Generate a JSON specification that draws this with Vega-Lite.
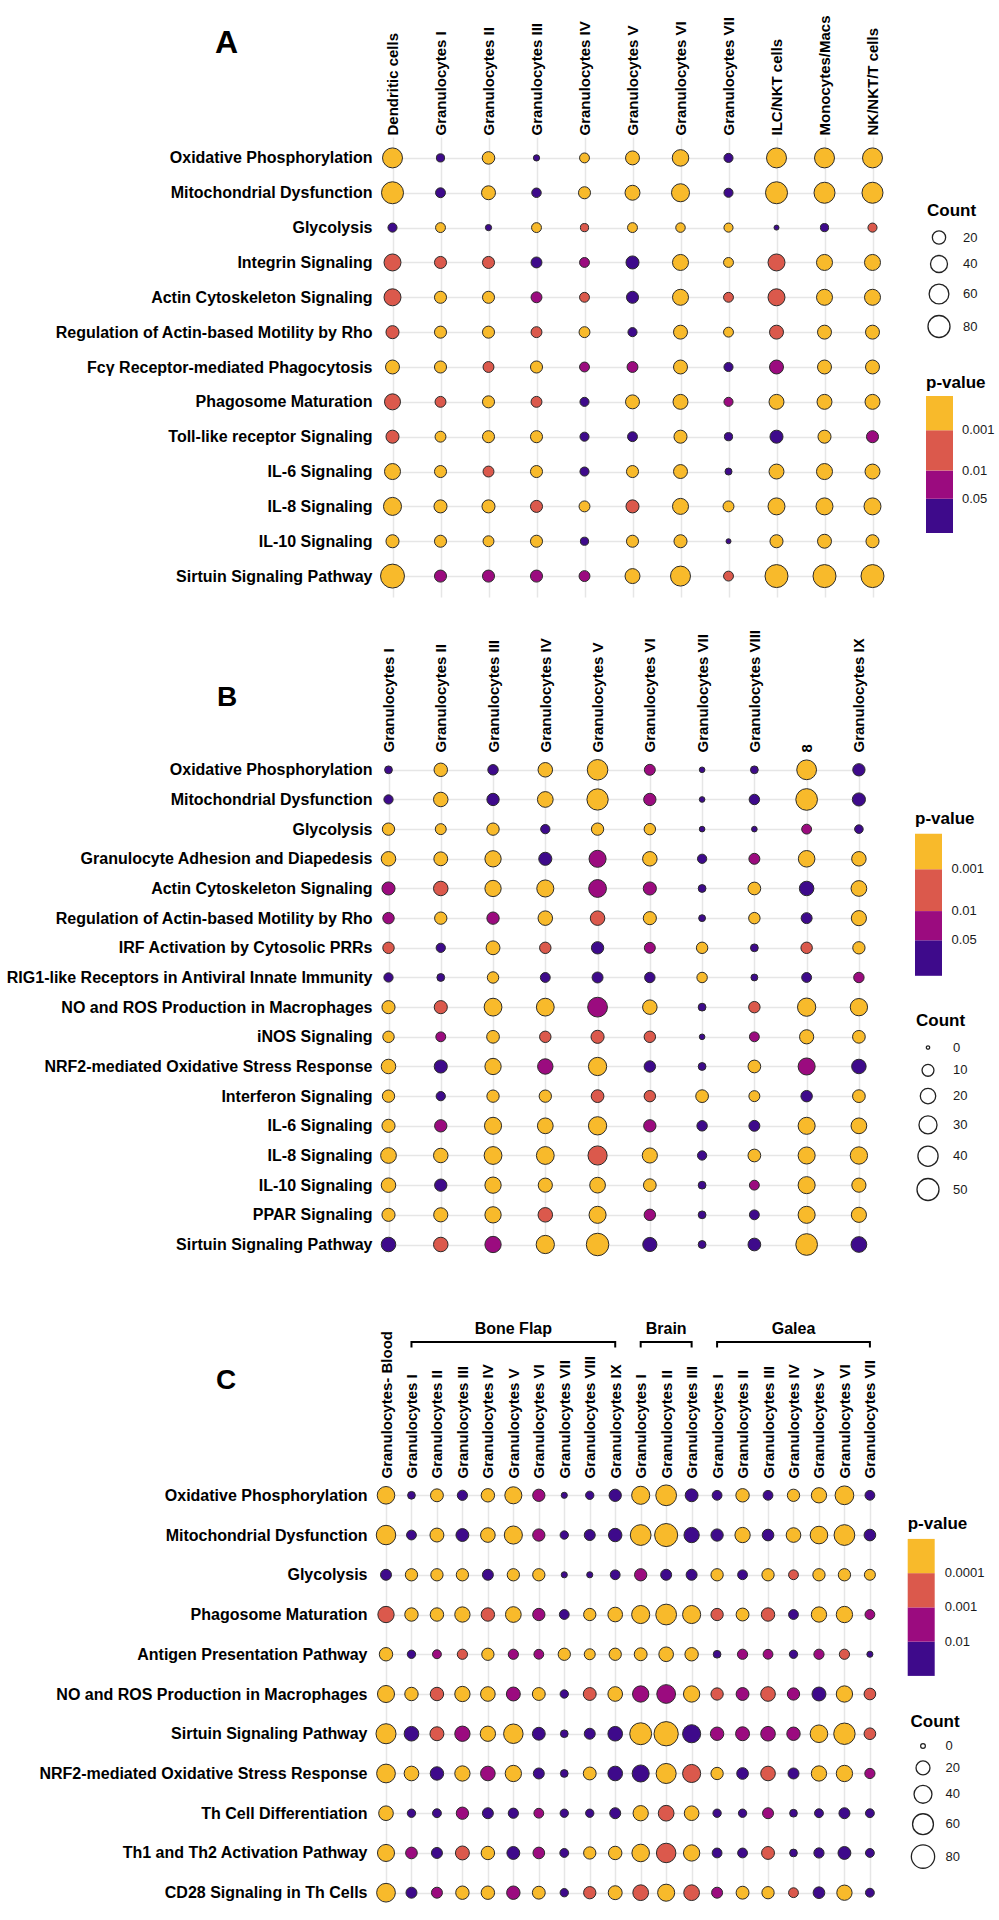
{
"$schema":"https://vega.github.io/schema/vega-lite/v6.json",
"background":"white",
"padding":{"left":5,"top":14,"right":5,"bottom":5},
"spacing":32,
"config":{
 "view":{"stroke":null},
 "font":"Liberation Sans",
 "axis":{"labelFont":"Liberation Sans","labelFontWeight":"bold","labelColor":"#000000","ticks":false,"domain":false,"grid":true,"gridColor":"#e6e6e6","gridWidth":1.5,"labelOverlap":false,"labelLimit":500},
 "axisX":{"labelFontSize":15,"labelAngle":270,"labelAlign":"left","labelBaseline":"middle","labelPadding":2},
 "axisY":{"labelFontSize":16,"labelPadding":3},
 "legend":{"titleFont":"Liberation Sans","titleFontSize":17,"titleFontWeight":"bold","titleColor":"#000000","labelFont":"Liberation Sans","labelFontSize":13,"labelColor":"#1a1a1a","padding":0,"gradientStrokeWidth":0,"symbolFillColor":"white","symbolStrokeColor":"#222222","symbolStrokeWidth":1.3,"symbolOpacity":1}
},
"resolve":{"scale":{"x":"independent","y":"independent","color":"independent","size":"independent"},"legend":{"color":"independent","size":"independent"}},
"datasets":{
"A":[
{"path":"Oxidative Phosphorylation","cell":"Dendritic cells","n":62,"lp":3.5},
{"path":"Oxidative Phosphorylation","cell":"Granulocytes I","n":4,"lp":1},
{"path":"Oxidative Phosphorylation","cell":"Granulocytes II","n":17,"lp":3.5},
{"path":"Oxidative Phosphorylation","cell":"Granulocytes III","n":1,"lp":1},
{"path":"Oxidative Phosphorylation","cell":"Granulocytes IV","n":8,"lp":3.5},
{"path":"Oxidative Phosphorylation","cell":"Granulocytes V","n":23,"lp":3.5},
{"path":"Oxidative Phosphorylation","cell":"Granulocytes VI","n":37,"lp":3.5},
{"path":"Oxidative Phosphorylation","cell":"Granulocytes VII","n":6,"lp":1},
{"path":"Oxidative Phosphorylation","cell":"ILC/NKT cells","n":62,"lp":3.5},
{"path":"Oxidative Phosphorylation","cell":"Monocytes/Macs","n":62,"lp":3.5},
{"path":"Oxidative Phosphorylation","cell":"NK/NKT/T cells","n":62,"lp":3.5},
{"path":"Mitochondrial Dysfunction","cell":"Dendritic cells","n":80,"lp":3.5},
{"path":"Mitochondrial Dysfunction","cell":"Granulocytes I","n":8,"lp":1},
{"path":"Mitochondrial Dysfunction","cell":"Granulocytes II","n":23,"lp":3.5},
{"path":"Mitochondrial Dysfunction","cell":"Granulocytes III","n":7,"lp":1},
{"path":"Mitochondrial Dysfunction","cell":"Granulocytes IV","n":15,"lp":3.5},
{"path":"Mitochondrial Dysfunction","cell":"Granulocytes V","n":28,"lp":3.5},
{"path":"Mitochondrial Dysfunction","cell":"Granulocytes VI","n":47,"lp":3.5},
{"path":"Mitochondrial Dysfunction","cell":"Granulocytes VII","n":6,"lp":1},
{"path":"Mitochondrial Dysfunction","cell":"ILC/NKT cells","n":80,"lp":3.5},
{"path":"Mitochondrial Dysfunction","cell":"Monocytes/Macs","n":71,"lp":3.5},
{"path":"Mitochondrial Dysfunction","cell":"NK/NKT/T cells","n":71,"lp":3.5},
{"path":"Glycolysis","cell":"Dendritic cells","n":6,"lp":1},
{"path":"Glycolysis","cell":"Granulocytes I","n":8,"lp":3.5},
{"path":"Glycolysis","cell":"Granulocytes II","n":1,"lp":1},
{"path":"Glycolysis","cell":"Granulocytes III","n":8,"lp":3.5},
{"path":"Glycolysis","cell":"Granulocytes IV","n":4,"lp":2.5},
{"path":"Glycolysis","cell":"Granulocytes V","n":8,"lp":3.5},
{"path":"Glycolysis","cell":"Granulocytes VI","n":7,"lp":3.5},
{"path":"Glycolysis","cell":"Granulocytes VII","n":6,"lp":3.5},
{"path":"Glycolysis","cell":"ILC/NKT cells","n":0,"lp":1},
{"path":"Glycolysis","cell":"Monocytes/Macs","n":4,"lp":1},
{"path":"Glycolysis","cell":"NK/NKT/T cells","n":6,"lp":2.5},
{"path":"Integrin Signaling","cell":"Dendritic cells","n":40,"lp":2.5},
{"path":"Integrin Signaling","cell":"Granulocytes I","n":15,"lp":2.5},
{"path":"Integrin Signaling","cell":"Granulocytes II","n":15,"lp":2.5},
{"path":"Integrin Signaling","cell":"Granulocytes III","n":11,"lp":1},
{"path":"Integrin Signaling","cell":"Granulocytes IV","n":8,"lp":1.6},
{"path":"Integrin Signaling","cell":"Granulocytes V","n":19,"lp":1},
{"path":"Integrin Signaling","cell":"Granulocytes VI","n":34,"lp":3.5},
{"path":"Integrin Signaling","cell":"Granulocytes VII","n":8,"lp":3.5},
{"path":"Integrin Signaling","cell":"ILC/NKT cells","n":40,"lp":2.5},
{"path":"Integrin Signaling","cell":"Monocytes/Macs","n":34,"lp":3.5},
{"path":"Integrin Signaling","cell":"NK/NKT/T cells","n":34,"lp":3.5},
{"path":"Actin Cytoskeleton Signaling","cell":"Dendritic cells","n":40,"lp":2.5},
{"path":"Actin Cytoskeleton Signaling","cell":"Granulocytes I","n":15,"lp":3.5},
{"path":"Actin Cytoskeleton Signaling","cell":"Granulocytes II","n":15,"lp":3.5},
{"path":"Actin Cytoskeleton Signaling","cell":"Granulocytes III","n":11,"lp":1.6},
{"path":"Actin Cytoskeleton Signaling","cell":"Granulocytes IV","n":8,"lp":2.5},
{"path":"Actin Cytoskeleton Signaling","cell":"Granulocytes V","n":15,"lp":1},
{"path":"Actin Cytoskeleton Signaling","cell":"Granulocytes VI","n":34,"lp":3.5},
{"path":"Actin Cytoskeleton Signaling","cell":"Granulocytes VII","n":8,"lp":2.5},
{"path":"Actin Cytoskeleton Signaling","cell":"ILC/NKT cells","n":40,"lp":2.5},
{"path":"Actin Cytoskeleton Signaling","cell":"Monocytes/Macs","n":34,"lp":3.5},
{"path":"Actin Cytoskeleton Signaling","cell":"NK/NKT/T cells","n":34,"lp":3.5},
{"path":"Regulation of Actin-based Motility by Rho","cell":"Dendritic cells","n":19,"lp":2.5},
{"path":"Regulation of Actin-based Motility by Rho","cell":"Granulocytes I","n":15,"lp":3.5},
{"path":"Regulation of Actin-based Motility by Rho","cell":"Granulocytes II","n":15,"lp":3.5},
{"path":"Regulation of Actin-based Motility by Rho","cell":"Granulocytes III","n":11,"lp":2.5},
{"path":"Regulation of Actin-based Motility by Rho","cell":"Granulocytes IV","n":11,"lp":3.5},
{"path":"Regulation of Actin-based Motility by Rho","cell":"Granulocytes V","n":6,"lp":1},
{"path":"Regulation of Actin-based Motility by Rho","cell":"Granulocytes VI","n":23,"lp":3.5},
{"path":"Regulation of Actin-based Motility by Rho","cell":"Granulocytes VII","n":8,"lp":3.5},
{"path":"Regulation of Actin-based Motility by Rho","cell":"ILC/NKT cells","n":23,"lp":2.5},
{"path":"Regulation of Actin-based Motility by Rho","cell":"Monocytes/Macs","n":23,"lp":3.5},
{"path":"Regulation of Actin-based Motility by Rho","cell":"NK/NKT/T cells","n":23,"lp":3.5},
{"path":"Fcγ Receptor-mediated Phagocytosis","cell":"Dendritic cells","n":23,"lp":3.5},
{"path":"Fcγ Receptor-mediated Phagocytosis","cell":"Granulocytes I","n":15,"lp":3.5},
{"path":"Fcγ Receptor-mediated Phagocytosis","cell":"Granulocytes II","n":11,"lp":2.5},
{"path":"Fcγ Receptor-mediated Phagocytosis","cell":"Granulocytes III","n":15,"lp":3.5},
{"path":"Fcγ Receptor-mediated Phagocytosis","cell":"Granulocytes IV","n":8,"lp":1.6},
{"path":"Fcγ Receptor-mediated Phagocytosis","cell":"Granulocytes V","n":11,"lp":1.6},
{"path":"Fcγ Receptor-mediated Phagocytosis","cell":"Granulocytes VI","n":23,"lp":3.5},
{"path":"Fcγ Receptor-mediated Phagocytosis","cell":"Granulocytes VII","n":6,"lp":1},
{"path":"Fcγ Receptor-mediated Phagocytosis","cell":"ILC/NKT cells","n":23,"lp":1.6},
{"path":"Fcγ Receptor-mediated Phagocytosis","cell":"Monocytes/Macs","n":23,"lp":3.5},
{"path":"Fcγ Receptor-mediated Phagocytosis","cell":"NK/NKT/T cells","n":23,"lp":3.5},
{"path":"Phagosome Maturation","cell":"Dendritic cells","n":34,"lp":2.5},
{"path":"Phagosome Maturation","cell":"Granulocytes I","n":11,"lp":2.5},
{"path":"Phagosome Maturation","cell":"Granulocytes II","n":15,"lp":3.5},
{"path":"Phagosome Maturation","cell":"Granulocytes III","n":11,"lp":2.5},
{"path":"Phagosome Maturation","cell":"Granulocytes IV","n":6,"lp":1},
{"path":"Phagosome Maturation","cell":"Granulocytes V","n":23,"lp":3.5},
{"path":"Phagosome Maturation","cell":"Granulocytes VI","n":28,"lp":3.5},
{"path":"Phagosome Maturation","cell":"Granulocytes VII","n":6,"lp":1.6},
{"path":"Phagosome Maturation","cell":"ILC/NKT cells","n":28,"lp":3.5},
{"path":"Phagosome Maturation","cell":"Monocytes/Macs","n":28,"lp":3.5},
{"path":"Phagosome Maturation","cell":"NK/NKT/T cells","n":28,"lp":3.5},
{"path":"Toll-like receptor Signaling","cell":"Dendritic cells","n":19,"lp":2.5},
{"path":"Toll-like receptor Signaling","cell":"Granulocytes I","n":11,"lp":3.5},
{"path":"Toll-like receptor Signaling","cell":"Granulocytes II","n":15,"lp":3.5},
{"path":"Toll-like receptor Signaling","cell":"Granulocytes III","n":15,"lp":3.5},
{"path":"Toll-like receptor Signaling","cell":"Granulocytes IV","n":6,"lp":1},
{"path":"Toll-like receptor Signaling","cell":"Granulocytes V","n":8,"lp":1},
{"path":"Toll-like receptor Signaling","cell":"Granulocytes VI","n":19,"lp":3.5},
{"path":"Toll-like receptor Signaling","cell":"Granulocytes VII","n":4,"lp":1},
{"path":"Toll-like receptor Signaling","cell":"ILC/NKT cells","n":19,"lp":1},
{"path":"Toll-like receptor Signaling","cell":"Monocytes/Macs","n":19,"lp":3.5},
{"path":"Toll-like receptor Signaling","cell":"NK/NKT/T cells","n":15,"lp":1.6},
{"path":"IL-6 Signaling","cell":"Dendritic cells","n":34,"lp":3.5},
{"path":"IL-6 Signaling","cell":"Granulocytes I","n":15,"lp":3.5},
{"path":"IL-6 Signaling","cell":"Granulocytes II","n":11,"lp":2.5},
{"path":"IL-6 Signaling","cell":"Granulocytes III","n":15,"lp":3.5},
{"path":"IL-6 Signaling","cell":"Granulocytes IV","n":6,"lp":1},
{"path":"IL-6 Signaling","cell":"Granulocytes V","n":15,"lp":3.5},
{"path":"IL-6 Signaling","cell":"Granulocytes VI","n":23,"lp":3.5},
{"path":"IL-6 Signaling","cell":"Granulocytes VII","n":2,"lp":1},
{"path":"IL-6 Signaling","cell":"ILC/NKT cells","n":28,"lp":3.5},
{"path":"IL-6 Signaling","cell":"Monocytes/Macs","n":34,"lp":3.5},
{"path":"IL-6 Signaling","cell":"NK/NKT/T cells","n":28,"lp":3.5},
{"path":"IL-8 Signaling","cell":"Dendritic cells","n":47,"lp":3.5},
{"path":"IL-8 Signaling","cell":"Granulocytes I","n":19,"lp":3.5},
{"path":"IL-8 Signaling","cell":"Granulocytes II","n":19,"lp":3.5},
{"path":"IL-8 Signaling","cell":"Granulocytes III","n":15,"lp":2.5},
{"path":"IL-8 Signaling","cell":"Granulocytes IV","n":11,"lp":3.5},
{"path":"IL-8 Signaling","cell":"Granulocytes V","n":19,"lp":2.5},
{"path":"IL-8 Signaling","cell":"Granulocytes VI","n":34,"lp":3.5},
{"path":"IL-8 Signaling","cell":"Granulocytes VII","n":11,"lp":3.5},
{"path":"IL-8 Signaling","cell":"ILC/NKT cells","n":40,"lp":3.5},
{"path":"IL-8 Signaling","cell":"Monocytes/Macs","n":40,"lp":3.5},
{"path":"IL-8 Signaling","cell":"NK/NKT/T cells","n":40,"lp":3.5},
{"path":"IL-10 Signaling","cell":"Dendritic cells","n":19,"lp":3.5},
{"path":"IL-10 Signaling","cell":"Granulocytes I","n":15,"lp":3.5},
{"path":"IL-10 Signaling","cell":"Granulocytes II","n":11,"lp":3.5},
{"path":"IL-10 Signaling","cell":"Granulocytes III","n":15,"lp":3.5},
{"path":"IL-10 Signaling","cell":"Granulocytes IV","n":4,"lp":1},
{"path":"IL-10 Signaling","cell":"Granulocytes V","n":15,"lp":3.5},
{"path":"IL-10 Signaling","cell":"Granulocytes VI","n":19,"lp":3.5},
{"path":"IL-10 Signaling","cell":"Granulocytes VII","n":0,"lp":1},
{"path":"IL-10 Signaling","cell":"ILC/NKT cells","n":19,"lp":3.5},
{"path":"IL-10 Signaling","cell":"Monocytes/Macs","n":23,"lp":3.5},
{"path":"IL-10 Signaling","cell":"NK/NKT/T cells","n":19,"lp":3.5},
{"path":"Sirtuin Signaling Pathway","cell":"Dendritic cells","n":100,"lp":3.5},
{"path":"Sirtuin Signaling Pathway","cell":"Granulocytes I","n":15,"lp":1.6},
{"path":"Sirtuin Signaling Pathway","cell":"Granulocytes II","n":15,"lp":1.6},
{"path":"Sirtuin Signaling Pathway","cell":"Granulocytes III","n":15,"lp":1.6},
{"path":"Sirtuin Signaling Pathway","cell":"Granulocytes IV","n":11,"lp":1.6},
{"path":"Sirtuin Signaling Pathway","cell":"Granulocytes V","n":28,"lp":3.5},
{"path":"Sirtuin Signaling Pathway","cell":"Granulocytes VI","n":62,"lp":3.5},
{"path":"Sirtuin Signaling Pathway","cell":"Granulocytes VII","n":8,"lp":2.5},
{"path":"Sirtuin Signaling Pathway","cell":"ILC/NKT cells","n":90,"lp":3.5},
{"path":"Sirtuin Signaling Pathway","cell":"Monocytes/Macs","n":90,"lp":3.5},
{"path":"Sirtuin Signaling Pathway","cell":"NK/NKT/T cells","n":90,"lp":3.5}
],
"B":[
{"path":"Oxidative Phosphorylation","cell":"Granulocytes I","n":3,"lp":1},
{"path":"Oxidative Phosphorylation","cell":"Granulocytes II","n":14,"lp":3.5},
{"path":"Oxidative Phosphorylation","cell":"Granulocytes III","n":7,"lp":1},
{"path":"Oxidative Phosphorylation","cell":"Granulocytes IV","n":17,"lp":3.5},
{"path":"Oxidative Phosphorylation","cell":"Granulocytes V","n":42,"lp":3.5},
{"path":"Oxidative Phosphorylation","cell":"Granulocytes VI","n":8,"lp":1.6},
{"path":"Oxidative Phosphorylation","cell":"Granulocytes VII","n":1,"lp":1},
{"path":"Oxidative Phosphorylation","cell":"Granulocytes VIII","n":3,"lp":1},
{"path":"Oxidative Phosphorylation","cell":"8","n":38,"lp":3.5},
{"path":"Oxidative Phosphorylation","cell":"Granulocytes IX","n":11,"lp":1},
{"path":"Mitochondrial Dysfunction","cell":"Granulocytes I","n":5,"lp":1},
{"path":"Mitochondrial Dysfunction","cell":"Granulocytes II","n":17,"lp":3.5},
{"path":"Mitochondrial Dysfunction","cell":"Granulocytes III","n":11,"lp":1},
{"path":"Mitochondrial Dysfunction","cell":"Granulocytes IV","n":21,"lp":3.5},
{"path":"Mitochondrial Dysfunction","cell":"Granulocytes V","n":46,"lp":3.5},
{"path":"Mitochondrial Dysfunction","cell":"Granulocytes VI","n":11,"lp":1.6},
{"path":"Mitochondrial Dysfunction","cell":"Granulocytes VII","n":1,"lp":1},
{"path":"Mitochondrial Dysfunction","cell":"Granulocytes VIII","n":7,"lp":1},
{"path":"Mitochondrial Dysfunction","cell":"8","n":48,"lp":3.5},
{"path":"Mitochondrial Dysfunction","cell":"Granulocytes IX","n":13,"lp":1},
{"path":"Glycolysis","cell":"Granulocytes I","n":11,"lp":3.5},
{"path":"Glycolysis","cell":"Granulocytes II","n":8,"lp":3.5},
{"path":"Glycolysis","cell":"Granulocytes III","n":11,"lp":3.5},
{"path":"Glycolysis","cell":"Granulocytes IV","n":5,"lp":1},
{"path":"Glycolysis","cell":"Granulocytes V","n":11,"lp":3.5},
{"path":"Glycolysis","cell":"Granulocytes VI","n":9,"lp":3.5},
{"path":"Glycolysis","cell":"Granulocytes VII","n":1,"lp":1},
{"path":"Glycolysis","cell":"Granulocytes VIII","n":1,"lp":1},
{"path":"Glycolysis","cell":"8","n":6,"lp":1.6},
{"path":"Glycolysis","cell":"Granulocytes IX","n":4,"lp":1},
{"path":"Granulocyte Adhesion and Diapedesis","cell":"Granulocytes I","n":17,"lp":3.5},
{"path":"Granulocyte Adhesion and Diapedesis","cell":"Granulocytes II","n":15,"lp":3.5},
{"path":"Granulocyte Adhesion and Diapedesis","cell":"Granulocytes III","n":23,"lp":3.5},
{"path":"Granulocyte Adhesion and Diapedesis","cell":"Granulocytes IV","n":13,"lp":1},
{"path":"Granulocyte Adhesion and Diapedesis","cell":"Granulocytes V","n":26,"lp":1.6},
{"path":"Granulocyte Adhesion and Diapedesis","cell":"Granulocytes VI","n":17,"lp":3.5},
{"path":"Granulocyte Adhesion and Diapedesis","cell":"Granulocytes VII","n":5,"lp":1},
{"path":"Granulocyte Adhesion and Diapedesis","cell":"Granulocytes VIII","n":8,"lp":1.6},
{"path":"Granulocyte Adhesion and Diapedesis","cell":"8","n":24,"lp":3.5},
{"path":"Granulocyte Adhesion and Diapedesis","cell":"Granulocytes IX","n":17,"lp":3.5},
{"path":"Actin Cytoskeleton Signaling","cell":"Granulocytes I","n":13,"lp":1.6},
{"path":"Actin Cytoskeleton Signaling","cell":"Granulocytes II","n":17,"lp":2.5},
{"path":"Actin Cytoskeleton Signaling","cell":"Granulocytes III","n":23,"lp":3.5},
{"path":"Actin Cytoskeleton Signaling","cell":"Granulocytes IV","n":26,"lp":3.5},
{"path":"Actin Cytoskeleton Signaling","cell":"Granulocytes V","n":29,"lp":1.6},
{"path":"Actin Cytoskeleton Signaling","cell":"Granulocytes VI","n":13,"lp":1.6},
{"path":"Actin Cytoskeleton Signaling","cell":"Granulocytes VII","n":3,"lp":1},
{"path":"Actin Cytoskeleton Signaling","cell":"Granulocytes VIII","n":12,"lp":3.5},
{"path":"Actin Cytoskeleton Signaling","cell":"8","n":17,"lp":1},
{"path":"Actin Cytoskeleton Signaling","cell":"Granulocytes IX","n":21,"lp":3.5},
{"path":"Regulation of Actin-based Motility by Rho","cell":"Granulocytes I","n":9,"lp":1.6},
{"path":"Regulation of Actin-based Motility by Rho","cell":"Granulocytes II","n":11,"lp":3.5},
{"path":"Regulation of Actin-based Motility by Rho","cell":"Granulocytes III","n":11,"lp":1.6},
{"path":"Regulation of Actin-based Motility by Rho","cell":"Granulocytes IV","n":17,"lp":3.5},
{"path":"Regulation of Actin-based Motility by Rho","cell":"Granulocytes V","n":17,"lp":2.5},
{"path":"Regulation of Actin-based Motility by Rho","cell":"Granulocytes VI","n":13,"lp":3.5},
{"path":"Regulation of Actin-based Motility by Rho","cell":"Granulocytes VII","n":2,"lp":1},
{"path":"Regulation of Actin-based Motility by Rho","cell":"Granulocytes VIII","n":9,"lp":3.5},
{"path":"Regulation of Actin-based Motility by Rho","cell":"8","n":8,"lp":1},
{"path":"Regulation of Actin-based Motility by Rho","cell":"Granulocytes IX","n":19,"lp":3.5},
{"path":"IRF Activation by Cytosolic PRRs","cell":"Granulocytes I","n":9,"lp":2.5},
{"path":"IRF Activation by Cytosolic PRRs","cell":"Granulocytes II","n":5,"lp":1},
{"path":"IRF Activation by Cytosolic PRRs","cell":"Granulocytes III","n":15,"lp":3.5},
{"path":"IRF Activation by Cytosolic PRRs","cell":"Granulocytes IV","n":9,"lp":2.5},
{"path":"IRF Activation by Cytosolic PRRs","cell":"Granulocytes V","n":11,"lp":1},
{"path":"IRF Activation by Cytosolic PRRs","cell":"Granulocytes VI","n":8,"lp":1.6},
{"path":"IRF Activation by Cytosolic PRRs","cell":"Granulocytes VII","n":9,"lp":3.5},
{"path":"IRF Activation by Cytosolic PRRs","cell":"Granulocytes VIII","n":3,"lp":1},
{"path":"IRF Activation by Cytosolic PRRs","cell":"8","n":9,"lp":2.5},
{"path":"IRF Activation by Cytosolic PRRs","cell":"Granulocytes IX","n":11,"lp":3.5},
{"path":"RIG1-like Receptors in Antiviral Innate Immunity","cell":"Granulocytes I","n":5,"lp":1},
{"path":"RIG1-like Receptors in Antiviral Innate Immunity","cell":"Granulocytes II","n":3,"lp":1},
{"path":"RIG1-like Receptors in Antiviral Innate Immunity","cell":"Granulocytes III","n":9,"lp":3.5},
{"path":"RIG1-like Receptors in Antiviral Innate Immunity","cell":"Granulocytes IV","n":6,"lp":1},
{"path":"RIG1-like Receptors in Antiviral Innate Immunity","cell":"Granulocytes V","n":8,"lp":1},
{"path":"RIG1-like Receptors in Antiviral Innate Immunity","cell":"Granulocytes VI","n":7,"lp":1},
{"path":"RIG1-like Receptors in Antiviral Innate Immunity","cell":"Granulocytes VII","n":7,"lp":3.5},
{"path":"RIG1-like Receptors in Antiviral Innate Immunity","cell":"Granulocytes VIII","n":2,"lp":1},
{"path":"RIG1-like Receptors in Antiviral Innate Immunity","cell":"8","n":6,"lp":1},
{"path":"RIG1-like Receptors in Antiviral Innate Immunity","cell":"Granulocytes IX","n":7,"lp":1.6},
{"path":"NO and ROS Production in Macrophages","cell":"Granulocytes I","n":13,"lp":3.5},
{"path":"NO and ROS Production in Macrophages","cell":"Granulocytes II","n":13,"lp":2.5},
{"path":"NO and ROS Production in Macrophages","cell":"Granulocytes III","n":29,"lp":3.5},
{"path":"NO and ROS Production in Macrophages","cell":"Granulocytes IV","n":29,"lp":3.5},
{"path":"NO and ROS Production in Macrophages","cell":"Granulocytes V","n":38,"lp":1.6},
{"path":"NO and ROS Production in Macrophages","cell":"Granulocytes VI","n":17,"lp":3.5},
{"path":"NO and ROS Production in Macrophages","cell":"Granulocytes VII","n":3,"lp":1},
{"path":"NO and ROS Production in Macrophages","cell":"Granulocytes VIII","n":9,"lp":2.5},
{"path":"NO and ROS Production in Macrophages","cell":"8","n":31,"lp":3.5},
{"path":"NO and ROS Production in Macrophages","cell":"Granulocytes IX","n":27,"lp":3.5},
{"path":"iNOS Signaling","cell":"Granulocytes I","n":9,"lp":3.5},
{"path":"iNOS Signaling","cell":"Granulocytes II","n":6,"lp":1.6},
{"path":"iNOS Signaling","cell":"Granulocytes III","n":12,"lp":3.5},
{"path":"iNOS Signaling","cell":"Granulocytes IV","n":9,"lp":2.5},
{"path":"iNOS Signaling","cell":"Granulocytes V","n":13,"lp":2.5},
{"path":"iNOS Signaling","cell":"Granulocytes VI","n":9,"lp":2.5},
{"path":"iNOS Signaling","cell":"Granulocytes VII","n":1,"lp":1},
{"path":"iNOS Signaling","cell":"Granulocytes VIII","n":6,"lp":1.6},
{"path":"iNOS Signaling","cell":"8","n":16,"lp":3.5},
{"path":"iNOS Signaling","cell":"Granulocytes IX","n":12,"lp":3.5},
{"path":"NRF2-mediated Oxidative Stress Response","cell":"Granulocytes I","n":17,"lp":3.5},
{"path":"NRF2-mediated Oxidative Stress Response","cell":"Granulocytes II","n":13,"lp":1},
{"path":"NRF2-mediated Oxidative Stress Response","cell":"Granulocytes III","n":23,"lp":3.5},
{"path":"NRF2-mediated Oxidative Stress Response","cell":"Granulocytes IV","n":20,"lp":1.6},
{"path":"NRF2-mediated Oxidative Stress Response","cell":"Granulocytes V","n":31,"lp":3.5},
{"path":"NRF2-mediated Oxidative Stress Response","cell":"Granulocytes VI","n":9,"lp":1},
{"path":"NRF2-mediated Oxidative Stress Response","cell":"Granulocytes VII","n":3,"lp":1},
{"path":"NRF2-mediated Oxidative Stress Response","cell":"Granulocytes VIII","n":12,"lp":3.5},
{"path":"NRF2-mediated Oxidative Stress Response","cell":"8","n":26,"lp":1.6},
{"path":"NRF2-mediated Oxidative Stress Response","cell":"Granulocytes IX","n":17,"lp":1},
{"path":"Interferon Signaling","cell":"Granulocytes I","n":11,"lp":3.5},
{"path":"Interferon Signaling","cell":"Granulocytes II","n":5,"lp":1},
{"path":"Interferon Signaling","cell":"Granulocytes III","n":11,"lp":3.5},
{"path":"Interferon Signaling","cell":"Granulocytes IV","n":11,"lp":3.5},
{"path":"Interferon Signaling","cell":"Granulocytes V","n":12,"lp":2.5},
{"path":"Interferon Signaling","cell":"Granulocytes VI","n":9,"lp":2.5},
{"path":"Interferon Signaling","cell":"Granulocytes VII","n":12,"lp":3.5},
{"path":"Interferon Signaling","cell":"Granulocytes VIII","n":8,"lp":3.5},
{"path":"Interferon Signaling","cell":"8","n":9,"lp":1},
{"path":"Interferon Signaling","cell":"Granulocytes IX","n":12,"lp":3.5},
{"path":"IL-6 Signaling","cell":"Granulocytes I","n":13,"lp":3.5},
{"path":"IL-6 Signaling","cell":"Granulocytes II","n":11,"lp":1.6},
{"path":"IL-6 Signaling","cell":"Granulocytes III","n":26,"lp":3.5},
{"path":"IL-6 Signaling","cell":"Granulocytes IV","n":21,"lp":3.5},
{"path":"IL-6 Signaling","cell":"Granulocytes V","n":31,"lp":3.5},
{"path":"IL-6 Signaling","cell":"Granulocytes VI","n":11,"lp":1.6},
{"path":"IL-6 Signaling","cell":"Granulocytes VII","n":7,"lp":1},
{"path":"IL-6 Signaling","cell":"Granulocytes VIII","n":8,"lp":1},
{"path":"IL-6 Signaling","cell":"8","n":26,"lp":3.5},
{"path":"IL-6 Signaling","cell":"Granulocytes IX","n":21,"lp":3.5},
{"path":"IL-8 Signaling","cell":"Granulocytes I","n":21,"lp":3.5},
{"path":"IL-8 Signaling","cell":"Granulocytes II","n":17,"lp":3.5},
{"path":"IL-8 Signaling","cell":"Granulocytes III","n":29,"lp":3.5},
{"path":"IL-8 Signaling","cell":"Granulocytes IV","n":29,"lp":3.5},
{"path":"IL-8 Signaling","cell":"Granulocytes V","n":35,"lp":2.5},
{"path":"IL-8 Signaling","cell":"Granulocytes VI","n":19,"lp":3.5},
{"path":"IL-8 Signaling","cell":"Granulocytes VII","n":5,"lp":1},
{"path":"IL-8 Signaling","cell":"Granulocytes VIII","n":12,"lp":3.5},
{"path":"IL-8 Signaling","cell":"8","n":26,"lp":3.5},
{"path":"IL-8 Signaling","cell":"Granulocytes IX","n":27,"lp":3.5},
{"path":"IL-10 Signaling","cell":"Granulocytes I","n":17,"lp":3.5},
{"path":"IL-10 Signaling","cell":"Granulocytes II","n":11,"lp":1},
{"path":"IL-10 Signaling","cell":"Granulocytes III","n":23,"lp":3.5},
{"path":"IL-10 Signaling","cell":"Granulocytes IV","n":16,"lp":3.5},
{"path":"IL-10 Signaling","cell":"Granulocytes V","n":21,"lp":3.5},
{"path":"IL-10 Signaling","cell":"Granulocytes VI","n":12,"lp":3.5},
{"path":"IL-10 Signaling","cell":"Granulocytes VII","n":3,"lp":1},
{"path":"IL-10 Signaling","cell":"Granulocytes VIII","n":6,"lp":1.6},
{"path":"IL-10 Signaling","cell":"8","n":26,"lp":3.5},
{"path":"IL-10 Signaling","cell":"Granulocytes IX","n":16,"lp":3.5},
{"path":"PPAR Signaling","cell":"Granulocytes I","n":13,"lp":3.5},
{"path":"PPAR Signaling","cell":"Granulocytes II","n":16,"lp":3.5},
{"path":"PPAR Signaling","cell":"Granulocytes III","n":23,"lp":3.5},
{"path":"PPAR Signaling","cell":"Granulocytes IV","n":17,"lp":2.5},
{"path":"PPAR Signaling","cell":"Granulocytes V","n":26,"lp":3.5},
{"path":"PPAR Signaling","cell":"Granulocytes VI","n":9,"lp":1.6},
{"path":"PPAR Signaling","cell":"Granulocytes VII","n":3,"lp":1},
{"path":"PPAR Signaling","cell":"Granulocytes VIII","n":6,"lp":1},
{"path":"PPAR Signaling","cell":"8","n":26,"lp":3.5},
{"path":"PPAR Signaling","cell":"Granulocytes IX","n":19,"lp":3.5},
{"path":"Sirtuin Signaling Pathway","cell":"Granulocytes I","n":17,"lp":1},
{"path":"Sirtuin Signaling Pathway","cell":"Granulocytes II","n":17,"lp":2.5},
{"path":"Sirtuin Signaling Pathway","cell":"Granulocytes III","n":23,"lp":1.6},
{"path":"Sirtuin Signaling Pathway","cell":"Granulocytes IV","n":31,"lp":3.5},
{"path":"Sirtuin Signaling Pathway","cell":"Granulocytes V","n":53,"lp":3.5},
{"path":"Sirtuin Signaling Pathway","cell":"Granulocytes VI","n":16,"lp":1},
{"path":"Sirtuin Signaling Pathway","cell":"Granulocytes VII","n":3,"lp":1},
{"path":"Sirtuin Signaling Pathway","cell":"Granulocytes VIII","n":12,"lp":1},
{"path":"Sirtuin Signaling Pathway","cell":"8","n":48,"lp":3.5},
{"path":"Sirtuin Signaling Pathway","cell":"Granulocytes IX","n":21,"lp":1}
],
"C":[
{"path":"Oxidative Phosphorylation","cell":"BL|Granulocytes- Blood","n":38,"lp":4.5},
{"path":"Oxidative Phosphorylation","cell":"BF|Granulocytes I","n":3,"lp":1.5},
{"path":"Oxidative Phosphorylation","cell":"BF|Granulocytes II","n":16,"lp":4.5},
{"path":"Oxidative Phosphorylation","cell":"BF|Granulocytes III","n":8,"lp":1.5},
{"path":"Oxidative Phosphorylation","cell":"BF|Granulocytes IV","n":18,"lp":4.5},
{"path":"Oxidative Phosphorylation","cell":"BF|Granulocytes V","n":35,"lp":4.5},
{"path":"Oxidative Phosphorylation","cell":"BF|Granulocytes VI","n":14,"lp":2.5},
{"path":"Oxidative Phosphorylation","cell":"BF|Granulocytes VII","n":1,"lp":1.5},
{"path":"Oxidative Phosphorylation","cell":"BF|Granulocytes VIII","n":4,"lp":1.5},
{"path":"Oxidative Phosphorylation","cell":"BF|Granulocytes IX","n":14,"lp":1.5},
{"path":"Oxidative Phosphorylation","cell":"BR|Granulocytes I","n":41,"lp":4.5},
{"path":"Oxidative Phosphorylation","cell":"BR|Granulocytes II","n":59,"lp":4.5},
{"path":"Oxidative Phosphorylation","cell":"BR|Granulocytes III","n":16,"lp":1.5},
{"path":"Oxidative Phosphorylation","cell":"GA|Granulocytes I","n":7,"lp":1.5},
{"path":"Oxidative Phosphorylation","cell":"GA|Granulocytes II","n":18,"lp":4.5},
{"path":"Oxidative Phosphorylation","cell":"GA|Granulocytes III","n":7,"lp":1.5},
{"path":"Oxidative Phosphorylation","cell":"GA|Granulocytes IV","n":14,"lp":4.5},
{"path":"Oxidative Phosphorylation","cell":"GA|Granulocytes V","n":26,"lp":4.5},
{"path":"Oxidative Phosphorylation","cell":"GA|Granulocytes VI","n":45,"lp":4.5},
{"path":"Oxidative Phosphorylation","cell":"GA|Granulocytes VII","n":7,"lp":1.5},
{"path":"Mitochondrial Dysfunction","cell":"BL|Granulocytes- Blood","n":50,"lp":4.5},
{"path":"Mitochondrial Dysfunction","cell":"BF|Granulocytes I","n":7,"lp":1.5},
{"path":"Mitochondrial Dysfunction","cell":"BF|Granulocytes II","n":20,"lp":4.5},
{"path":"Mitochondrial Dysfunction","cell":"BF|Granulocytes III","n":16,"lp":1.5},
{"path":"Mitochondrial Dysfunction","cell":"BF|Granulocytes IV","n":23,"lp":4.5},
{"path":"Mitochondrial Dysfunction","cell":"BF|Granulocytes V","n":41,"lp":4.5},
{"path":"Mitochondrial Dysfunction","cell":"BF|Granulocytes VI","n":14,"lp":2.5},
{"path":"Mitochondrial Dysfunction","cell":"BF|Granulocytes VII","n":4,"lp":1.5},
{"path":"Mitochondrial Dysfunction","cell":"BF|Granulocytes VIII","n":10,"lp":1.5},
{"path":"Mitochondrial Dysfunction","cell":"BF|Granulocytes IX","n":18,"lp":1.5},
{"path":"Mitochondrial Dysfunction","cell":"BR|Granulocytes I","n":59,"lp":4.5},
{"path":"Mitochondrial Dysfunction","cell":"BR|Granulocytes II","n":78,"lp":4.5},
{"path":"Mitochondrial Dysfunction","cell":"BR|Granulocytes III","n":26,"lp":1.5},
{"path":"Mitochondrial Dysfunction","cell":"GA|Granulocytes I","n":14,"lp":1.5},
{"path":"Mitochondrial Dysfunction","cell":"GA|Granulocytes II","n":26,"lp":4.5},
{"path":"Mitochondrial Dysfunction","cell":"GA|Granulocytes III","n":12,"lp":1.5},
{"path":"Mitochondrial Dysfunction","cell":"GA|Granulocytes IV","n":23,"lp":4.5},
{"path":"Mitochondrial Dysfunction","cell":"GA|Granulocytes V","n":38,"lp":4.5},
{"path":"Mitochondrial Dysfunction","cell":"GA|Granulocytes VI","n":59,"lp":4.5},
{"path":"Mitochondrial Dysfunction","cell":"GA|Granulocytes VII","n":12,"lp":1.5},
{"path":"Glycolysis","cell":"BL|Granulocytes- Blood","n":10,"lp":1.5},
{"path":"Glycolysis","cell":"BF|Granulocytes I","n":14,"lp":4.5},
{"path":"Glycolysis","cell":"BF|Granulocytes II","n":14,"lp":4.5},
{"path":"Glycolysis","cell":"BF|Granulocytes III","n":14,"lp":4.5},
{"path":"Glycolysis","cell":"BF|Granulocytes IV","n":10,"lp":1.5},
{"path":"Glycolysis","cell":"BF|Granulocytes V","n":14,"lp":4.5},
{"path":"Glycolysis","cell":"BF|Granulocytes VI","n":14,"lp":4.5},
{"path":"Glycolysis","cell":"BF|Granulocytes VII","n":1,"lp":1.5},
{"path":"Glycolysis","cell":"BF|Granulocytes VIII","n":1,"lp":1.5},
{"path":"Glycolysis","cell":"BF|Granulocytes IX","n":7,"lp":1.5},
{"path":"Glycolysis","cell":"BR|Granulocytes I","n":14,"lp":2.5},
{"path":"Glycolysis","cell":"BR|Granulocytes II","n":10,"lp":1.5},
{"path":"Glycolysis","cell":"BR|Granulocytes III","n":10,"lp":1.5},
{"path":"Glycolysis","cell":"GA|Granulocytes I","n":14,"lp":4.5},
{"path":"Glycolysis","cell":"GA|Granulocytes II","n":7,"lp":1.5},
{"path":"Glycolysis","cell":"GA|Granulocytes III","n":14,"lp":4.5},
{"path":"Glycolysis","cell":"GA|Granulocytes IV","n":7,"lp":3.5},
{"path":"Glycolysis","cell":"GA|Granulocytes V","n":14,"lp":4.5},
{"path":"Glycolysis","cell":"GA|Granulocytes VI","n":14,"lp":4.5},
{"path":"Glycolysis","cell":"GA|Granulocytes VII","n":10,"lp":4.5},
{"path":"Phagosome Maturation","cell":"BL|Granulocytes- Blood","n":31,"lp":3.5},
{"path":"Phagosome Maturation","cell":"BF|Granulocytes I","n":18,"lp":4.5},
{"path":"Phagosome Maturation","cell":"BF|Granulocytes II","n":18,"lp":4.5},
{"path":"Phagosome Maturation","cell":"BF|Granulocytes III","n":26,"lp":4.5},
{"path":"Phagosome Maturation","cell":"BF|Granulocytes IV","n":18,"lp":3.5},
{"path":"Phagosome Maturation","cell":"BF|Granulocytes V","n":28,"lp":4.5},
{"path":"Phagosome Maturation","cell":"BF|Granulocytes VI","n":14,"lp":2.5},
{"path":"Phagosome Maturation","cell":"BF|Granulocytes VII","n":7,"lp":1.5},
{"path":"Phagosome Maturation","cell":"BF|Granulocytes VIII","n":14,"lp":4.5},
{"path":"Phagosome Maturation","cell":"BF|Granulocytes IX","n":23,"lp":4.5},
{"path":"Phagosome Maturation","cell":"BR|Granulocytes I","n":41,"lp":4.5},
{"path":"Phagosome Maturation","cell":"BR|Granulocytes II","n":59,"lp":4.5},
{"path":"Phagosome Maturation","cell":"BR|Granulocytes III","n":41,"lp":4.5},
{"path":"Phagosome Maturation","cell":"GA|Granulocytes I","n":14,"lp":3.5},
{"path":"Phagosome Maturation","cell":"GA|Granulocytes II","n":16,"lp":4.5},
{"path":"Phagosome Maturation","cell":"GA|Granulocytes III","n":18,"lp":3.5},
{"path":"Phagosome Maturation","cell":"GA|Granulocytes IV","n":7,"lp":1.5},
{"path":"Phagosome Maturation","cell":"GA|Granulocytes V","n":26,"lp":4.5},
{"path":"Phagosome Maturation","cell":"GA|Granulocytes VI","n":31,"lp":4.5},
{"path":"Phagosome Maturation","cell":"GA|Granulocytes VII","n":7,"lp":2.5},
{"path":"Antigen Presentation Pathway","cell":"BL|Granulocytes- Blood","n":18,"lp":4.5},
{"path":"Antigen Presentation Pathway","cell":"BF|Granulocytes I","n":4,"lp":1.5},
{"path":"Antigen Presentation Pathway","cell":"BF|Granulocytes II","n":5,"lp":2.5},
{"path":"Antigen Presentation Pathway","cell":"BF|Granulocytes III","n":8,"lp":3.5},
{"path":"Antigen Presentation Pathway","cell":"BF|Granulocytes IV","n":14,"lp":4.5},
{"path":"Antigen Presentation Pathway","cell":"BF|Granulocytes V","n":8,"lp":2.5},
{"path":"Antigen Presentation Pathway","cell":"BF|Granulocytes VI","n":7,"lp":2.5},
{"path":"Antigen Presentation Pathway","cell":"BF|Granulocytes VII","n":14,"lp":4.5},
{"path":"Antigen Presentation Pathway","cell":"BF|Granulocytes VIII","n":10,"lp":4.5},
{"path":"Antigen Presentation Pathway","cell":"BF|Granulocytes IX","n":14,"lp":4.5},
{"path":"Antigen Presentation Pathway","cell":"BR|Granulocytes I","n":16,"lp":4.5},
{"path":"Antigen Presentation Pathway","cell":"BR|Granulocytes II","n":23,"lp":4.5},
{"path":"Antigen Presentation Pathway","cell":"BR|Granulocytes III","n":18,"lp":4.5},
{"path":"Antigen Presentation Pathway","cell":"GA|Granulocytes I","n":3,"lp":1.5},
{"path":"Antigen Presentation Pathway","cell":"GA|Granulocytes II","n":8,"lp":2.5},
{"path":"Antigen Presentation Pathway","cell":"GA|Granulocytes III","n":7,"lp":2.5},
{"path":"Antigen Presentation Pathway","cell":"GA|Granulocytes IV","n":4,"lp":1.5},
{"path":"Antigen Presentation Pathway","cell":"GA|Granulocytes V","n":8,"lp":2.5},
{"path":"Antigen Presentation Pathway","cell":"GA|Granulocytes VI","n":8,"lp":3.5},
{"path":"Antigen Presentation Pathway","cell":"GA|Granulocytes VII","n":1,"lp":1.5},
{"path":"NO and ROS Production in Macrophages","cell":"BL|Granulocytes- Blood","n":35,"lp":4.5},
{"path":"NO and ROS Production in Macrophages","cell":"BF|Granulocytes I","n":18,"lp":4.5},
{"path":"NO and ROS Production in Macrophages","cell":"BF|Granulocytes II","n":18,"lp":3.5},
{"path":"NO and ROS Production in Macrophages","cell":"BF|Granulocytes III","n":26,"lp":4.5},
{"path":"NO and ROS Production in Macrophages","cell":"BF|Granulocytes IV","n":23,"lp":4.5},
{"path":"NO and ROS Production in Macrophages","cell":"BF|Granulocytes V","n":20,"lp":2.5},
{"path":"NO and ROS Production in Macrophages","cell":"BF|Granulocytes VI","n":16,"lp":4.5},
{"path":"NO and ROS Production in Macrophages","cell":"BF|Granulocytes VII","n":4,"lp":1.5},
{"path":"NO and ROS Production in Macrophages","cell":"BF|Granulocytes VIII","n":16,"lp":3.5},
{"path":"NO and ROS Production in Macrophages","cell":"BF|Granulocytes IX","n":23,"lp":4.5},
{"path":"NO and ROS Production in Macrophages","cell":"BR|Granulocytes I","n":31,"lp":2.5},
{"path":"NO and ROS Production in Macrophages","cell":"BR|Granulocytes II","n":45,"lp":2.5},
{"path":"NO and ROS Production in Macrophages","cell":"BR|Granulocytes III","n":31,"lp":4.5},
{"path":"NO and ROS Production in Macrophages","cell":"GA|Granulocytes I","n":14,"lp":3.5},
{"path":"NO and ROS Production in Macrophages","cell":"GA|Granulocytes II","n":16,"lp":2.5},
{"path":"NO and ROS Production in Macrophages","cell":"GA|Granulocytes III","n":23,"lp":3.5},
{"path":"NO and ROS Production in Macrophages","cell":"GA|Granulocytes IV","n":14,"lp":2.5},
{"path":"NO and ROS Production in Macrophages","cell":"GA|Granulocytes V","n":20,"lp":1.5},
{"path":"NO and ROS Production in Macrophages","cell":"GA|Granulocytes VI","n":31,"lp":4.5},
{"path":"NO and ROS Production in Macrophages","cell":"GA|Granulocytes VII","n":12,"lp":3.5},
{"path":"Sirtuin Signaling Pathway","cell":"BL|Granulocytes- Blood","n":54,"lp":4.5},
{"path":"Sirtuin Signaling Pathway","cell":"BF|Granulocytes I","n":23,"lp":1.5},
{"path":"Sirtuin Signaling Pathway","cell":"BF|Granulocytes II","n":20,"lp":3.5},
{"path":"Sirtuin Signaling Pathway","cell":"BF|Granulocytes III","n":26,"lp":2.5},
{"path":"Sirtuin Signaling Pathway","cell":"BF|Granulocytes IV","n":26,"lp":4.5},
{"path":"Sirtuin Signaling Pathway","cell":"BF|Granulocytes V","n":50,"lp":4.5},
{"path":"Sirtuin Signaling Pathway","cell":"BF|Granulocytes VI","n":16,"lp":1.5},
{"path":"Sirtuin Signaling Pathway","cell":"BF|Granulocytes VII","n":3,"lp":1.5},
{"path":"Sirtuin Signaling Pathway","cell":"BF|Granulocytes VIII","n":10,"lp":1.5},
{"path":"Sirtuin Signaling Pathway","cell":"BF|Granulocytes IX","n":23,"lp":1.5},
{"path":"Sirtuin Signaling Pathway","cell":"BR|Granulocytes I","n":68,"lp":4.5},
{"path":"Sirtuin Signaling Pathway","cell":"BR|Granulocytes II","n":89,"lp":4.5},
{"path":"Sirtuin Signaling Pathway","cell":"BR|Granulocytes III","n":41,"lp":1.5},
{"path":"Sirtuin Signaling Pathway","cell":"GA|Granulocytes I","n":18,"lp":2.5},
{"path":"Sirtuin Signaling Pathway","cell":"GA|Granulocytes II","n":20,"lp":2.5},
{"path":"Sirtuin Signaling Pathway","cell":"GA|Granulocytes III","n":23,"lp":2.5},
{"path":"Sirtuin Signaling Pathway","cell":"GA|Granulocytes IV","n":18,"lp":2.5},
{"path":"Sirtuin Signaling Pathway","cell":"GA|Granulocytes V","n":38,"lp":4.5},
{"path":"Sirtuin Signaling Pathway","cell":"GA|Granulocytes VI","n":64,"lp":4.5},
{"path":"Sirtuin Signaling Pathway","cell":"GA|Granulocytes VII","n":12,"lp":3.5},
{"path":"NRF2-mediated Oxidative Stress Response","cell":"BL|Granulocytes- Blood","n":45,"lp":4.5},
{"path":"NRF2-mediated Oxidative Stress Response","cell":"BF|Granulocytes I","n":23,"lp":4.5},
{"path":"NRF2-mediated Oxidative Stress Response","cell":"BF|Granulocytes II","n":18,"lp":1.5},
{"path":"NRF2-mediated Oxidative Stress Response","cell":"BF|Granulocytes III","n":26,"lp":4.5},
{"path":"NRF2-mediated Oxidative Stress Response","cell":"BF|Granulocytes IV","n":23,"lp":2.5},
{"path":"NRF2-mediated Oxidative Stress Response","cell":"BF|Granulocytes V","n":31,"lp":4.5},
{"path":"NRF2-mediated Oxidative Stress Response","cell":"BF|Granulocytes VI","n":10,"lp":1.5},
{"path":"NRF2-mediated Oxidative Stress Response","cell":"BF|Granulocytes VII","n":3,"lp":1.5},
{"path":"NRF2-mediated Oxidative Stress Response","cell":"BF|Granulocytes VIII","n":16,"lp":4.5},
{"path":"NRF2-mediated Oxidative Stress Response","cell":"BF|Granulocytes IX","n":23,"lp":1.5},
{"path":"NRF2-mediated Oxidative Stress Response","cell":"BR|Granulocytes I","n":35,"lp":1.5},
{"path":"NRF2-mediated Oxidative Stress Response","cell":"BR|Granulocytes II","n":54,"lp":4.5},
{"path":"NRF2-mediated Oxidative Stress Response","cell":"BR|Granulocytes III","n":41,"lp":3.5},
{"path":"NRF2-mediated Oxidative Stress Response","cell":"GA|Granulocytes I","n":14,"lp":4.5},
{"path":"NRF2-mediated Oxidative Stress Response","cell":"GA|Granulocytes II","n":12,"lp":1.5},
{"path":"NRF2-mediated Oxidative Stress Response","cell":"GA|Granulocytes III","n":23,"lp":3.5},
{"path":"NRF2-mediated Oxidative Stress Response","cell":"GA|Granulocytes IV","n":10,"lp":1.5},
{"path":"NRF2-mediated Oxidative Stress Response","cell":"GA|Granulocytes V","n":26,"lp":4.5},
{"path":"NRF2-mediated Oxidative Stress Response","cell":"GA|Granulocytes VI","n":31,"lp":4.5},
{"path":"NRF2-mediated Oxidative Stress Response","cell":"GA|Granulocytes VII","n":8,"lp":2.5},
{"path":"Th Cell Differentiation","cell":"BL|Granulocytes- Blood","n":23,"lp":4.5},
{"path":"Th Cell Differentiation","cell":"BF|Granulocytes I","n":4,"lp":1.5},
{"path":"Th Cell Differentiation","cell":"BF|Granulocytes II","n":5,"lp":1.5},
{"path":"Th Cell Differentiation","cell":"BF|Granulocytes III","n":14,"lp":2.5},
{"path":"Th Cell Differentiation","cell":"BF|Granulocytes IV","n":10,"lp":1.5},
{"path":"Th Cell Differentiation","cell":"BF|Granulocytes V","n":8,"lp":1.5},
{"path":"Th Cell Differentiation","cell":"BF|Granulocytes VI","n":7,"lp":2.5},
{"path":"Th Cell Differentiation","cell":"BF|Granulocytes VII","n":4,"lp":1.5},
{"path":"Th Cell Differentiation","cell":"BF|Granulocytes VIII","n":4,"lp":1.5},
{"path":"Th Cell Differentiation","cell":"BF|Granulocytes IX","n":10,"lp":1.5},
{"path":"Th Cell Differentiation","cell":"BR|Granulocytes I","n":26,"lp":4.5},
{"path":"Th Cell Differentiation","cell":"BR|Granulocytes II","n":28,"lp":3.5},
{"path":"Th Cell Differentiation","cell":"BR|Granulocytes III","n":23,"lp":4.5},
{"path":"Th Cell Differentiation","cell":"GA|Granulocytes I","n":4,"lp":1.5},
{"path":"Th Cell Differentiation","cell":"GA|Granulocytes II","n":4,"lp":1.5},
{"path":"Th Cell Differentiation","cell":"GA|Granulocytes III","n":10,"lp":2.5},
{"path":"Th Cell Differentiation","cell":"GA|Granulocytes IV","n":3,"lp":1.5},
{"path":"Th Cell Differentiation","cell":"GA|Granulocytes V","n":5,"lp":1.5},
{"path":"Th Cell Differentiation","cell":"GA|Granulocytes VI","n":10,"lp":1.5},
{"path":"Th Cell Differentiation","cell":"GA|Granulocytes VII","n":5,"lp":1.5},
{"path":"Th1 and Th2 Activation Pathway","cell":"BL|Granulocytes- Blood","n":35,"lp":4.5},
{"path":"Th1 and Th2 Activation Pathway","cell":"BF|Granulocytes I","n":12,"lp":2.5},
{"path":"Th1 and Th2 Activation Pathway","cell":"BF|Granulocytes II","n":10,"lp":1.5},
{"path":"Th1 and Th2 Activation Pathway","cell":"BF|Granulocytes III","n":20,"lp":3.5},
{"path":"Th1 and Th2 Activation Pathway","cell":"BF|Granulocytes IV","n":18,"lp":4.5},
{"path":"Th1 and Th2 Activation Pathway","cell":"BF|Granulocytes V","n":16,"lp":1.5},
{"path":"Th1 and Th2 Activation Pathway","cell":"BF|Granulocytes VI","n":12,"lp":2.5},
{"path":"Th1 and Th2 Activation Pathway","cell":"BF|Granulocytes VII","n":5,"lp":1.5},
{"path":"Th1 and Th2 Activation Pathway","cell":"BF|Granulocytes VIII","n":14,"lp":4.5},
{"path":"Th1 and Th2 Activation Pathway","cell":"BF|Granulocytes IX","n":18,"lp":4.5},
{"path":"Th1 and Th2 Activation Pathway","cell":"BR|Granulocytes I","n":38,"lp":4.5},
{"path":"Th1 and Th2 Activation Pathway","cell":"BR|Granulocytes II","n":50,"lp":3.5},
{"path":"Th1 and Th2 Activation Pathway","cell":"BR|Granulocytes III","n":31,"lp":4.5},
{"path":"Th1 and Th2 Activation Pathway","cell":"GA|Granulocytes I","n":7,"lp":1.5},
{"path":"Th1 and Th2 Activation Pathway","cell":"GA|Granulocytes II","n":7,"lp":1.5},
{"path":"Th1 and Th2 Activation Pathway","cell":"GA|Granulocytes III","n":16,"lp":3.5},
{"path":"Th1 and Th2 Activation Pathway","cell":"GA|Granulocytes IV","n":3,"lp":1.5},
{"path":"Th1 and Th2 Activation Pathway","cell":"GA|Granulocytes V","n":8,"lp":1.5},
{"path":"Th1 and Th2 Activation Pathway","cell":"GA|Granulocytes VI","n":16,"lp":1.5},
{"path":"Th1 and Th2 Activation Pathway","cell":"GA|Granulocytes VII","n":5,"lp":1.5},
{"path":"CD28 Signaling in Th Cells","cell":"BL|Granulocytes- Blood","n":45,"lp":4.5},
{"path":"CD28 Signaling in Th Cells","cell":"BF|Granulocytes I","n":10,"lp":1.5},
{"path":"CD28 Signaling in Th Cells","cell":"BF|Granulocytes II","n":10,"lp":2.5},
{"path":"CD28 Signaling in Th Cells","cell":"BF|Granulocytes III","n":18,"lp":4.5},
{"path":"CD28 Signaling in Th Cells","cell":"BF|Granulocytes IV","n":18,"lp":4.5},
{"path":"CD28 Signaling in Th Cells","cell":"BF|Granulocytes V","n":18,"lp":2.5},
{"path":"CD28 Signaling in Th Cells","cell":"BF|Granulocytes VI","n":16,"lp":4.5},
{"path":"CD28 Signaling in Th Cells","cell":"BF|Granulocytes VII","n":4,"lp":1.5},
{"path":"CD28 Signaling in Th Cells","cell":"BF|Granulocytes VIII","n":14,"lp":3.5},
{"path":"CD28 Signaling in Th Cells","cell":"BF|Granulocytes IX","n":20,"lp":4.5},
{"path":"CD28 Signaling in Th Cells","cell":"BR|Granulocytes I","n":28,"lp":3.5},
{"path":"CD28 Signaling in Th Cells","cell":"BR|Granulocytes II","n":35,"lp":4.5},
{"path":"CD28 Signaling in Th Cells","cell":"BR|Granulocytes III","n":28,"lp":3.5},
{"path":"CD28 Signaling in Th Cells","cell":"GA|Granulocytes I","n":10,"lp":2.5},
{"path":"CD28 Signaling in Th Cells","cell":"GA|Granulocytes II","n":16,"lp":4.5},
{"path":"CD28 Signaling in Th Cells","cell":"GA|Granulocytes III","n":14,"lp":4.5},
{"path":"CD28 Signaling in Th Cells","cell":"GA|Granulocytes IV","n":7,"lp":3.5},
{"path":"CD28 Signaling in Th Cells","cell":"GA|Granulocytes V","n":12,"lp":1.5},
{"path":"CD28 Signaling in Th Cells","cell":"GA|Granulocytes VI","n":26,"lp":4.5},
{"path":"CD28 Signaling in Th Cells","cell":"GA|Granulocytes VII","n":5,"lp":1.5}
],
"groups":[
{"group":"Bone Flap","start":"BF|Granulocytes I","end":"BF|Granulocytes IX","mid":"BF|Granulocytes V"},
{"group":"Brain","start":"BR|Granulocytes I","end":"BR|Granulocytes III","mid":"BR|Granulocytes II"},
{"group":"Galea","start":"GA|Granulocytes I","end":"GA|Granulocytes VII","mid":"GA|Granulocytes IV"}
]
},
"vconcat":[
{
 "width":527,"height":460,
 "layer":[
  {"data":{"name":"A"},
   "mark":{"type":"circle","opacity":1,"stroke":"#2b2b2b","strokeWidth":1},
   "encoding":{
    "x":{"field":"cell","type":"nominal","title":null,"scale":{"type":"point","domain":["Dendritic cells","Granulocytes I","Granulocytes II","Granulocytes III","Granulocytes IV","Granulocytes V","Granulocytes VI","Granulocytes VII","ILC/NKT cells","Monocytes/Macs","NK/NKT/T cells"],"range":[17.5,497.5],"padding":0},"axis":{"orient":"top"}},
    "y":{"field":"path","type":"nominal","title":null,"scale":{"type":"point","domain":["Oxidative Phosphorylation","Mitochondrial Dysfunction","Glycolysis","Integrin Signaling","Actin Cytoskeleton Signaling","Regulation of Actin-based Motility by Rho","Fcγ Receptor-mediated Phagocytosis","Phagosome Maturation","Toll-like receptor Signaling","IL-6 Signaling","IL-8 Signaling","IL-10 Signaling","Sirtuin Signaling Pathway"],"padding":0.6}},
    "size":{"field":"n","type":"quantitative","scale":{"type":"pow","exponent":0.8,"domain":[0,80],"range":[25,484],"zero":false},
      "legend":{"title":"Count","orient":"none","legendX":552,"legendY":66,"values":[20,40,60,80],"symbolType":"circle","rowPadding":5.5,"labelOffset":12,"titlePadding":10,"symbolFillColor":"white","symbolStrokeColor":"#222222","symbolStrokeWidth":1.3}},
    "color":{"field":"lp","type":"quantitative","scale":{"type":"threshold","domain":[1.30103,2,3],"range":["#3E0A8B","#9B0B7F","#DB594C","#F8BA2B"]},
      "legend":{"title":"p-value","type":"gradient","orient":"none","legendX":551,"legendY":238,"direction":"vertical","gradientLength":137,"gradientThickness":27,"labelOffset":9,"titlePadding":4,
        "labelExpr":"datum.value < 1.29 ? '' : datum.value < 1.5 ? '0.05' : datum.value < 2.5 ? '0.01' : datum.value < 3.5 ? '0.001' : ''"}}
   }},
  {"data":{"values":[{"t":"A"}]},
   "mark":{"type":"text","fontSize":32,"fontWeight":"bold","align":"left","baseline":"alphabetic","font":"Liberation Sans","color":"#000000"},
   "encoding":{"text":{"field":"t"},"x":{"value":-160},"y":{"value":-84}}}
 ]
},
{
 "width":515,"height":508,
 "layer":[
  {"data":{"name":"B"},
   "mark":{"type":"circle","opacity":1,"stroke":"#2b2b2b","strokeWidth":1},
   "encoding":{
    "x":{"field":"cell","type":"nominal","title":null,"scale":{"type":"point","domain":["Granulocytes I","Granulocytes II","Granulocytes III","Granulocytes IV","Granulocytes V","Granulocytes VI","Granulocytes VII","Granulocytes VIII","8","Granulocytes IX"],"range":[13.5,483.9],"padding":0},"axis":{"orient":"top"}},
    "y":{"field":"path","type":"nominal","title":null,"scale":{"type":"point","domain":["Oxidative Phosphorylation","Mitochondrial Dysfunction","Glycolysis","Granulocyte Adhesion and Diapedesis","Actin Cytoskeleton Signaling","Regulation of Actin-based Motility by Rho","IRF Activation by Cytosolic PRRs","RIG1-like Receptors in Antiviral Innate Immunity","NO and ROS Production in Macrophages","iNOS Signaling","NRF2-mediated Oxidative Stress Response","Interferon Signaling","IL-6 Signaling","IL-8 Signaling","IL-10 Signaling","PPAR Signaling","Sirtuin Signaling Pathway"],"range":[15.8,490.5],"padding":0}},
    "size":{"field":"n","type":"quantitative","scale":{"type":"pow","exponent":0.8,"domain":[0,50],"range":[11,484],"zero":false},
      "legend":{"title":"Count","orient":"none","legendX":541,"legendY":258.5,"values":[0,10,20,30,40,50],"symbolType":"circle","rowPadding":6.3,"labelOffset":13,"titlePadding":11.5,"symbolFillColor":"white","symbolStrokeColor":"#222222","symbolStrokeWidth":1.3}},
    "color":{"field":"lp","type":"quantitative","scale":{"type":"threshold","domain":[1.30103,2,3],"range":["#3E0A8B","#9B0B7F","#DB594C","#F8BA2B"]},
      "legend":{"title":"p-value","type":"gradient","orient":"none","legendX":540,"legendY":57,"direction":"vertical","gradientLength":142,"gradientThickness":27,"labelOffset":9.5,"titlePadding":5.8,
        "labelExpr":"datum.value < 1.29 ? '' : datum.value < 1.5 ? '0.05' : datum.value < 2.5 ? '0.01' : datum.value < 3.5 ? '0.001' : ''"}}
   }},
  {"data":{"values":[{"t":"B"}]},
   "mark":{"type":"text","fontSize":28,"fontWeight":"bold","align":"left","baseline":"alphabetic","font":"Liberation Sans","color":"#000000"},
   "encoding":{"text":{"field":"t"},"x":{"value":-158},"y":{"value":-48.5}}}
 ]
},
{
 "width":511,"height":433,
 "title":{"text":" ","fontSize":12,"offset":13.5},
 "layer":[
  {"data":{"name":"C"},
   "mark":{"type":"circle","opacity":1,"stroke":"#2b2b2b","strokeWidth":1},
   "encoding":{
    "x":{"field":"cell","type":"nominal","title":null,"scale":{"type":"point","domain":["BL|Granulocytes- Blood","BF|Granulocytes I","BF|Granulocytes II","BF|Granulocytes III","BF|Granulocytes IV","BF|Granulocytes V","BF|Granulocytes VI","BF|Granulocytes VII","BF|Granulocytes VIII","BF|Granulocytes IX","BR|Granulocytes I","BR|Granulocytes II","BR|Granulocytes III","GA|Granulocytes I","GA|Granulocytes II","GA|Granulocytes III","GA|Granulocytes IV","GA|Granulocytes V","GA|Granulocytes VI","GA|Granulocytes VII"],"range":[11,494.9],"padding":0},"axis":{"orient":"top","labelExpr":"split(datum.label, '|')[1]"}},
    "y":{"field":"path","type":"nominal","title":null,"scale":{"type":"point","domain":["Oxidative Phosphorylation","Mitochondrial Dysfunction","Glycolysis","Phagosome Maturation","Antigen Presentation Pathway","NO and ROS Production in Macrophages","Sirtuin Signaling Pathway","NRF2-mediated Oxidative Stress Response","Th Cell Differentiation","Th1 and Th2 Activation Pathway","CD28 Signaling in Th Cells"],"range":[15.3,412.7],"padding":0},"axis":{"labelPadding":8}},
    "size":{"field":"n","type":"quantitative","scale":{"type":"pow","exponent":0.8,"domain":[0,80],"range":[22,543],"zero":false},
      "legend":{"title":"Count","orient":"none","legendX":535.5,"legendY":234,"values":[0,20,40,60,80],"symbolType":"circle","rowPadding":4.4,"labelOffset":10,"titlePadding":8.5,"symbolFillColor":"white","symbolStrokeColor":"#222222","symbolStrokeWidth":1.3}},
    "color":{"field":"lp","type":"quantitative","scale":{"type":"threshold","domain":[2,3,4],"range":["#3E0A8B","#9B0B7F","#DB594C","#F8BA2B"]},
      "legend":{"title":"p-value","type":"gradient","orient":"none","legendX":532.7,"legendY":36,"direction":"vertical","gradientLength":137,"gradientThickness":27,"labelOffset":10,"titlePadding":5.9,
        "labelExpr":"datum.value < 1.99 ? '' : datum.value < 2.5 ? '0.01' : datum.value < 3.5 ? '0.001' : datum.value < 4.5 ? '0.0001' : ''"}}
   }},
  {"data":{"name":"groups"},
   "mark":{"type":"rule","stroke":"#000000","strokeWidth":2},
   "encoding":{"x":{"field":"start","type":"nominal","title":null,"axis":{"orient":"top","labelExpr":"split(datum.label, '|')[1]"}},"x2":{"field":"end"},"y":{"value":-138}}},
  {"data":{"name":"groups"},
   "mark":{"type":"rule","stroke":"#000000","strokeWidth":2},
   "encoding":{"x":{"field":"start","type":"nominal","title":null,"axis":{"orient":"top","labelExpr":"split(datum.label, '|')[1]"}},"y":{"value":-139},"y2":{"value":-132.5}}},
  {"data":{"name":"groups"},
   "mark":{"type":"rule","stroke":"#000000","strokeWidth":2},
   "encoding":{"x":{"field":"end","type":"nominal","title":null,"axis":{"orient":"top","labelExpr":"split(datum.label, '|')[1]"}},"y":{"value":-139},"y2":{"value":-132.5}}},
  {"data":{"name":"groups"},
   "mark":{"type":"text","fontSize":16,"fontWeight":"bold","align":"center","baseline":"alphabetic","font":"Liberation Sans","color":"#000000"},
   "encoding":{"x":{"field":"mid","type":"nominal","title":null,"axis":{"orient":"top","labelExpr":"split(datum.label, '|')[1]"}},"y":{"value":-145.7},"text":{"field":"group"}}},
  {"data":{"values":[{"t":"C"}]},
   "mark":{"type":"text","fontSize":28,"fontWeight":"bold","align":"left","baseline":"alphabetic","font":"Liberation Sans","color":"#000000"},
   "encoding":{"text":{"field":"t"},"x":{"value":-159},"y":{"value":-91.3}}}
 ]
}
]
}
